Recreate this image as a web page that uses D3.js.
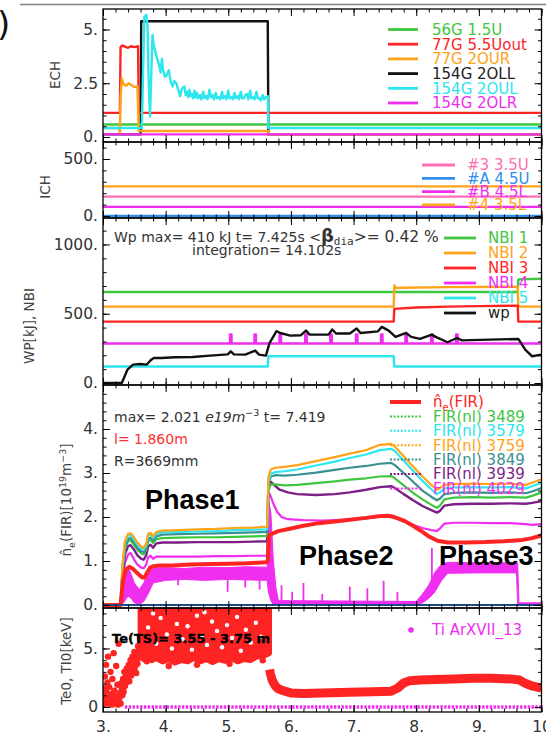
<!DOCTYPE html>
<html>
<head>
<meta charset="utf-8">
<script src="https://cdn.jsdelivr.net/npm/d3@7/dist/d3.min.js"></script>
<style>
  body { margin: 0; background: #fff; }
  svg { display: block; font-family: "DejaVu Sans", sans-serif; }
</style>
</head>
<body>
<svg id="chart" width="546" height="737"></svg>
<script>
// ---------------- axis ticks ----------------
const xTicks = [3, 4, 5, 6, 7, 8, 9, 10];
const xTickLabels = ["3.", "4.", "5.", "6.", "7.", "8.", "9.", "10"];
const echTicks = [0, 2.5, 5], echTickLabels = ["0.", "2.5", "5."];
const ichTicks = [0, 500], ichTickLabels = ["0.", "500."];
const nbiTicks = [0, 500, 1000], nbiTickLabels = ["0.", "500.", "1000."];
const neTicks = [0, 1, 2, 3, 4], neTickLabels = ["0.", "1.", "2.", "3.", "4."];
const teTicks = [0, 5], teTickLabels = ["0", "5."];

// ---------------- ECH ----------------
const ech56G15U = [[3, 0.58], [10, 0.58]];
const ech77G55Uout = [[3, 1.12], [3.27, 1.12], [3.28, 4.18], [3.31, 4.26], [3.35, 4.2], [3.4, 4.15], [3.45, 4.22],
  [3.5, 4.18], [3.56, 4.22], [3.57, 1.12], [10, 1.12]];
const ech77G2OUR = [[3, 0.42], [3.26, 0.42], [3.27, 0.15], [3.28, 1.8], [3.3, 2.72], [3.33, 2.45], [3.37, 2.38],
  [3.41, 2.5], [3.45, 2.42], [3.5, 2.32], [3.55, 2.36], [3.57, 0.28], [5.64, 0.28], [5.65, 0.12], [10, 0.12]];
const ech154G2OLL = [[3, 0.12], [3.6, 0.12], [3.61, 5.38], [5.63, 5.38], [5.64, 0.12], [10, 0.12]];
const ech154G2OUL = [[3, 0.42], [3.62, 0.42], [3.64, 3.0], [3.66, 5.6], [3.69, 5.68], [3.71, 5.2], [3.73, 2.5],
  [3.75, 0.95], [3.77, 2.8], [3.79, 4.75], [3.81, 4.3], [3.84, 3.9], [3.87, 3.6], [3.9, 3.3], [3.92, 3.0],
  [3.94, 3.64], [3.96, 3.1], [3.99, 2.8], [4.02, 2.9], [4.05, 3.1], [4.08, 2.6], [4.11, 2.35], [4.14, 2.6],
  [4.17, 2.5], [4.2, 2.2], [4.23, 1.9], [4.26, 2.25], [4.3, 2.35], [4.32, 1.95], [4.34, 2.1], [4.36, 1.85],
  [4.38, 2.2], [4.4, 1.9], [4.42, 2.0], [4.44, 1.8], [4.46, 2.15], [4.48, 1.85], [4.5, 2.05], [4.52, 1.8],
  [4.55, 1.95], [4.57, 1.75], [4.6, 2.1], [4.62, 1.8], [4.65, 1.9], [4.67, 1.75], [4.7, 2.2], [4.72, 1.85],
  [4.75, 1.95], [4.77, 1.75], [4.8, 2.05], [4.82, 1.8], [4.85, 1.85], [4.87, 1.75], [4.9, 2.1], [4.92, 1.8],
  [4.95, 1.9], [4.97, 1.75], [5.0, 2.15], [5.02, 1.8], [5.05, 1.85], [5.07, 1.75], [5.1, 2.05], [5.12, 1.8],
  [5.15, 1.9], [5.17, 1.75], [5.2, 2.1], [5.22, 1.8], [5.25, 1.8], [5.27, 1.95], [5.3, 2.0], [5.32, 1.75],
  [5.35, 2.15], [5.37, 1.8], [5.4, 1.85], [5.42, 1.75], [5.45, 2.1], [5.47, 1.8], [5.5, 1.8], [5.52, 1.7],
  [5.55, 1.95], [5.57, 1.75], [5.6, 1.85], [5.63, 1.9], [5.64, 0.42], [10, 0.42]];
const ech154G2OLR = [[3, 0.12], [10, 0.12]];

// ---------------- ICH ----------------
const ich3_35U = [[3, 170], [10, 170]];
const ichA_45U = [[3, 0], [10, 0]];
const ichB_45L = [[3, 80], [10, 80]];
const ich4_35L = [[3, 260], [10, 260]];

// ---------------- NBI / Wp [kJ] ----------------
const nbi1 = [[3, 657], [9.62, 657], [9.63, 748], [10, 752]];
const nbi2 = [[3, 551], [7.64, 551], [7.65, 705], [7.67, 686], [7.8, 688], [8.5, 692], [9.0, 693], [9.62, 695],
  [9.63, 551], [10, 551]];
const nbi3 = [[3, 443], [7.64, 443], [7.65, 535], [8.0, 545], [8.5, 551], [9.0, 555], [9.62, 558], [9.63, 443], [10, 443]];
const nbi4Base = 285, nbi4PulseTop = 350;
const nbi4Pulses = [5.04, 5.43, 5.83, 6.24, 6.64, 7.05, 7.45, 7.84, 8.25, 8.65];
const nbi5 = [[3, 119], [5.63, 119], [5.64, 193], [7.64, 193], [7.65, 119], [10, 119]];
const wp = [[3, 0], [3.3, 0], [3.39, 96], [3.48, 133], [3.59, 137], [3.7, 133], [3.76, 164], [3.81, 181],
  [3.93, 181], [4.15, 186], [4.43, 188], [4.71, 198], [4.99, 207], [5.04, 229], [5.09, 207], [5.27, 205],
  [5.43, 234], [5.49, 205], [5.6, 198], [5.66, 289], [5.77, 374], [5.83, 361], [5.99, 342], [6.16, 345],
  [6.24, 378], [6.3, 349], [6.6, 349], [6.66, 386], [6.72, 357], [6.94, 357], [7.05, 393], [7.11, 361],
  [7.39, 373], [7.45, 405], [7.56, 378], [7.67, 333], [7.84, 361], [7.92, 333], [8.06, 318], [8.25, 349],
  [8.31, 333], [8.5, 294], [8.65, 325], [8.73, 308], [9.18, 313], [9.63, 318], [9.74, 241], [9.85, 193], [10, 205]];

// ---------------- line density [1e19 m^-3] ----------------
const neFIR = [[3, 0], [3.28, 0], [3.32, 0.55], [3.36, 0.8], [3.42, 0.87], [3.48, 0.82], [3.55, 0.72], [3.62, 0.63],
  [3.66, 0.62], [3.7, 0.72], [3.75, 0.85], [3.8, 0.88], [3.9, 0.9], [4.1, 0.9], [4.4, 0.92], [4.7, 0.93], [5.0, 0.94],
  [5.3, 0.95], [5.6, 0.97], [5.63, 1.0], [5.65, 1.58], [5.7, 1.62], [5.8, 1.68], [6.0, 1.74], [6.2, 1.8], [6.4, 1.85],
  [6.7, 1.9], [6.94, 1.94], [7.2, 1.98], [7.4, 2.02], [7.55, 2.03], [7.65, 2.0], [7.8, 1.92], [7.95, 1.8], [8.06, 1.7],
  [8.2, 1.56], [8.34, 1.46], [8.5, 1.42], [8.8, 1.42], [9.1, 1.43], [9.4, 1.45], [9.7, 1.48], [9.85, 1.52], [10, 1.58]];
const fir3489 = [[3, 0], [3.28, 0], [3.31, 0.75], [3.35, 1.28], [3.4, 1.45], [3.44, 1.47], [3.49, 1.38], [3.55, 1.25],
  [3.61, 1.17], [3.65, 1.15], [3.69, 1.25], [3.72, 1.45], [3.76, 1.48], [3.8, 1.41], [3.85, 1.5], [3.95, 1.52],
  [4.2, 1.53], [4.5, 1.54], [4.8, 1.54], [5.1, 1.55], [5.4, 1.56], [5.62, 1.57], [5.64, 2.6], [5.68, 2.74],
  [5.75, 2.74], [5.9, 2.72], [6.1, 2.73], [6.4, 2.77], [6.7, 2.81], [6.94, 2.85], [7.2, 2.88], [7.42, 2.92],
  [7.6, 2.93], [7.66, 2.88], [7.8, 2.72], [7.95, 2.55], [8.1, 2.4], [8.25, 2.27], [8.33, 2.21], [8.38, 2.26],
  [8.45, 2.4], [8.6, 2.44], [8.9, 2.45], [9.2, 2.44], [9.5, 2.45], [9.75, 2.44], [9.85, 2.48], [10, 2.56]];
const fir3579 = [[3, 0], [3.28, 0], [3.31, 0.85], [3.35, 1.4], [3.4, 1.58], [3.44, 1.59], [3.49, 1.5], [3.55, 1.38],
  [3.61, 1.29], [3.65, 1.26], [3.69, 1.36], [3.72, 1.58], [3.76, 1.6], [3.8, 1.52], [3.85, 1.62], [3.95, 1.65],
  [4.2, 1.66], [4.5, 1.67], [4.8, 1.68], [5.1, 1.7], [5.4, 1.71], [5.62, 1.72], [5.64, 2.8], [5.68, 2.98],
  [5.75, 3.02], [5.9, 3.04], [6.1, 3.08], [6.4, 3.17], [6.7, 3.26], [6.94, 3.34], [7.2, 3.42], [7.42, 3.52],
  [7.6, 3.55], [7.66, 3.5], [7.8, 3.28], [7.95, 3.05], [8.1, 2.82], [8.25, 2.62], [8.33, 2.52], [8.38, 2.56],
  [8.45, 2.65], [8.6, 2.67], [8.9, 2.68], [9.2, 2.67], [9.5, 2.68], [9.75, 2.65], [9.85, 2.7], [10, 2.78]];
const fir3759 = [[3, 0], [3.28, 0], [3.31, 0.9], [3.35, 1.45], [3.4, 1.62], [3.44, 1.63], [3.49, 1.55], [3.55, 1.42],
  [3.61, 1.33], [3.65, 1.3], [3.69, 1.4], [3.72, 1.62], [3.76, 1.64], [3.8, 1.56], [3.85, 1.66], [3.95, 1.69],
  [4.2, 1.7], [4.5, 1.72], [4.8, 1.73], [5.1, 1.75], [5.4, 1.76], [5.62, 1.78], [5.64, 2.9], [5.68, 3.08],
  [5.75, 3.12], [5.9, 3.14], [6.1, 3.18], [6.4, 3.27], [6.7, 3.36], [6.94, 3.44], [7.2, 3.52], [7.42, 3.64],
  [7.6, 3.66], [7.66, 3.6], [7.8, 3.38], [7.95, 3.15], [8.1, 2.92], [8.25, 2.72], [8.33, 2.62], [8.38, 2.66],
  [8.45, 2.73], [8.6, 2.75], [8.9, 2.76], [9.2, 2.75], [9.5, 2.76], [9.75, 2.73], [9.85, 2.78], [10, 2.86]];
const fir3849 = [[3, 0], [3.28, 0], [3.31, 0.8], [3.35, 1.32], [3.4, 1.5], [3.44, 1.52], [3.49, 1.43], [3.55, 1.3],
  [3.61, 1.22], [3.65, 1.2], [3.69, 1.3], [3.72, 1.5], [3.76, 1.53], [3.8, 1.46], [3.85, 1.56], [3.95, 1.6],
  [4.2, 1.61], [4.5, 1.62], [4.8, 1.63], [5.1, 1.64], [5.4, 1.65], [5.62, 1.66], [5.64, 2.75], [5.68, 2.92],
  [5.75, 2.95], [5.9, 2.94], [6.1, 2.96], [6.4, 3.01], [6.7, 3.07], [6.94, 3.12], [7.2, 3.16], [7.42, 3.21],
  [7.6, 3.23], [7.66, 3.18], [7.8, 3.0], [7.95, 2.8], [8.1, 2.6], [8.25, 2.45], [8.33, 2.38], [8.38, 2.42],
  [8.45, 2.52], [8.6, 2.55], [8.9, 2.56], [9.2, 2.55], [9.5, 2.56], [9.75, 2.54], [9.85, 2.58], [10, 2.66]];
const fir3939 = [[3, 0], [3.28, 0], [3.31, 0.6], [3.35, 1.15], [3.4, 1.34], [3.44, 1.36], [3.49, 1.27], [3.55, 1.13],
  [3.61, 1.05], [3.65, 1.03], [3.69, 1.13], [3.72, 1.33], [3.76, 1.37], [3.8, 1.3], [3.85, 1.4], [3.95, 1.42],
  [4.2, 1.42], [4.5, 1.43], [4.8, 1.43], [5.1, 1.43], [5.4, 1.44], [5.62, 1.45], [5.64, 2.7], [5.68, 2.8],
  [5.74, 2.72], [5.82, 2.62], [5.95, 2.56], [6.1, 2.52], [6.4, 2.5], [6.7, 2.52], [6.94, 2.56], [7.2, 2.62],
  [7.42, 2.68], [7.6, 2.7], [7.66, 2.66], [7.8, 2.52], [7.95, 2.38], [8.1, 2.25], [8.25, 2.15], [8.33, 2.1],
  [8.38, 2.14], [8.45, 2.26], [8.6, 2.29], [8.9, 2.3], [9.2, 2.3], [9.5, 2.31], [9.75, 2.3], [9.85, 2.32], [10, 2.36]];
const fir4029 = [[3, 0], [3.28, 0], [3.31, 0.5], [3.35, 0.95], [3.4, 1.15], [3.44, 1.18], [3.49, 1.05], [3.55, 0.92],
  [3.61, 0.85], [3.65, 0.84], [3.69, 0.92], [3.72, 1.08], [3.76, 1.12], [3.8, 1.05], [3.85, 1.1], [3.95, 1.1],
  [4.2, 1.1], [4.5, 1.1], [4.8, 1.11], [5.1, 1.11], [5.4, 1.12], [5.62, 1.12], [5.64, 2.55], [5.67, 2.5],
  [5.72, 2.3], [5.78, 2.12], [5.85, 2.0], [5.95, 1.95], [6.2, 1.93], [6.5, 1.92], [6.94, 1.94], [7.2, 1.97],
  [7.42, 2.0], [7.6, 2.03], [7.66, 2.0], [7.8, 1.9], [7.95, 1.82], [8.1, 1.75], [8.25, 1.7], [8.33, 1.68],
  [8.38, 1.74], [8.45, 1.85], [8.6, 1.87], [8.9, 1.87], [9.2, 1.86], [9.5, 1.86], [9.75, 1.84], [9.85, 1.82], [10, 1.84]];
// noisy edge chord: [t, low, high]
const firEdgeBand = [[3.28, 0, 0.05], [3.33, 0.05, 0.5], [3.4, 0.2, 0.85], [3.45, 0.15, 0.7], [3.5, 0.05, 0.5],
  [3.58, 0.02, 0.35], [3.65, 0.08, 0.5], [3.72, 0.25, 0.72], [3.8, 0.5, 0.84], [4.0, 0.56, 0.85], [4.3, 0.58, 0.83],
  [4.6, 0.56, 0.86], [5.0, 0.58, 0.85], [5.3, 0.57, 0.87], [5.62, 0.56, 0.86], [5.64, 0.3, 2.4], [5.68, 0.1, 2.1],
  [5.72, 0.0, 1.0], [5.76, 0, 0.4], [5.8, 0, 0.1], [8.0, 0, 0.08], [8.1, 0.05, 0.25], [8.2, 0.15, 0.45],
  [8.3, 0.3, 0.75], [8.4, 0.55, 0.92], [8.5, 0.72, 0.97], [9.0, 0.73, 0.96], [9.6, 0.73, 0.96], [9.62, 0, 0.96],
  [9.64, 0, 0.05], [10, 0, 0.05]];
const firEdgeSpikes = [[4.2, 0.6, 0.45], [4.99, 0.6, 0.3], [5.27, 0.62, 0.4], [5.5, 0.62, 0.35], [5.85, 0, 0.45],
  [6.02, 0, 0.3], [6.2, 0, 0.5], [6.5, 0, 0.25], [6.94, 0, 0.42], [7.22, 0, 0.38], [7.48, 0, 0.55], [7.7, 0, 0.3],
  [8.25, 0.5, 1.3]];
const firZero = [[3, 0], [10, 0]];

// ---------------- Te / Ti [keV] ----------------
const teEarly = [[3.01, 0.2], [3.02, 0.9], [3.02, 1.6], [3.03, 2.6], [3.04, 0.5], [3.05, 3.6], [3.05, 1.3], [3.07, 0.3],
  [3.07, 2.1], [3.08, 4.3], [3.09, 0.8], [3.1, 1.7], [3.11, 0.4], [3.12, 3.0], [3.13, 1.1], [3.14, 0.2], [3.15, 2.4],
  [3.16, 0.7], [3.17, 4.6], [3.18, 1.4], [3.19, 0.3], [3.2, 0.9], [3.21, 3.5], [3.22, 0.5], [3.23, 1.9], [3.24, 0.2],
  [3.25, 5.4], [3.26, 0.7], [3.27, 1.2], [3.28, 0.3], [3.29, 2.0], [3.3, 1.6], [3.31, 1.0], [3.32, 2.4], [3.33, 1.3],
  [3.34, 3.0], [3.35, 1.8], [3.36, 2.6], [3.37, 2.1], [3.38, 3.3], [3.39, 2.4], [3.4, 2.9], [3.41, 3.6], [3.42, 2.2],
  [3.43, 3.1], [3.44, 4.0], [3.45, 2.7], [3.46, 3.5], [3.47, 4.3], [3.48, 3.1], [3.49, 3.8], [3.5, 4.7], [3.51, 3.4],
  [3.52, 4.1], [3.53, 2.9], [3.54, 4.5], [3.55, 3.7], [3.56, 5.2], [3.57, 4.2], [3.58, 4.8], [3.59, 6.0], [3.6, 4.5],
  [3.61, 7.2], [3.62, 5.6], [3.7, 3.9], [4.05, 3.5], [4.5, 3.6], [5.02, 3.7], [5.55, 4.0]];
const teBlobEdge = [[3.6, 4.8], [3.65, 4.1], [3.7, 4.4], [3.78, 4.0], [3.85, 4.2], [3.95, 3.9], [4.05, 4.1], [4.15, 3.8],
  [4.25, 4.0], [4.35, 3.9], [4.45, 4.2], [4.55, 3.9], [4.65, 4.1], [4.75, 3.85], [4.85, 4.1], [4.95, 3.95], [5.05, 4.2],
  [5.15, 3.9], [5.25, 4.1], [5.35, 4.0], [5.45, 4.3], [5.55, 4.4], [5.62, 4.5], [5.65, 4.6]];
// gaps inside the dense Te cloud
const teBlobGaps = [[3.72, 6.8], [3.85, 5.4], [3.92, 7.6], [4.02, 6.2], [4.1, 5.0], [4.18, 7.1], [4.27, 5.8],
  [4.35, 6.9], [4.42, 4.9], [4.5, 7.8], [4.58, 6.1], [4.66, 5.3], [4.74, 7.3], [4.82, 6.5], [4.9, 5.1], [4.98, 7.0],
  [5.06, 5.9], [5.14, 7.7], [5.2, 4.8], [5.28, 6.6], [5.36, 5.5], [5.44, 7.2], [5.52, 6.0], [3.8, 8.0], [4.62, 8.1]];
const teBand = [[5.66, 3.2], [5.67, 2.9], [5.7, 2.3], [5.75, 1.8], [5.8, 1.55], [5.9, 1.35], [6.0, 1.2], [6.2, 1.15],
  [6.5, 1.2], [6.94, 1.25], [7.3, 1.3], [7.6, 1.35], [7.7, 1.6], [7.8, 2.05], [7.9, 2.25], [8.06, 2.3], [8.3, 2.35],
  [8.6, 2.4], [8.9, 2.45], [9.2, 2.45], [9.5, 2.4], [9.65, 2.3], [9.75, 2.0], [9.85, 1.8], [10, 1.6]];
const tiArXVII13 = [[3.35, 0], [10, 0]];

// ---------------- drawing ----------------
const svg = d3.select("#chart");
const x = d3.scaleLinear().domain([3, 10]).range([103, 541.5]);
const col = {
  green: "#3fc63f", red: "#ff2424", orange: "#ffa31a", black: "#111", cyan: "#2de6ee", magenta: "#f02ef0",
  pink: "#ff6fb4", blue: "#2f8ee8", teal: "#3a9090", purple: "#7d1f86", navy: "#1f4a86"
};

const panels = [
  { id: "ech", top: 9, bottom: 142, domain: [-0.233, 5.953], ticks: echTicks, labels: echTickLabels, minor: 0.5 },
  { id: "ich", top: 142, bottom: 218, domain: [-17.5, 649], ticks: ichTicks, labels: ichTickLabels, minor: 100 },
  { id: "nbi", top: 218, bottom: 385, domain: [-14.4, 1191], ticks: nbiTicks, labels: nbiTickLabels, minor: 100 },
  { id: "ne", top: 385, bottom: 608, domain: [-0.068, 5.0], ticks: neTicks, labels: neTickLabels, minor: 0.2 },
  { id: "te", top: 608, bottom: 712, domain: [-0.43, 8.46], ticks: teTicks, labels: teTickLabels, minor: 1 }
];
const P = {};
panels.forEach(p => {
  p.y = d3.scaleLinear().domain(p.domain).range([p.bottom, p.top]);
  svg.append("clipPath").attr("id", "clip-" + p.id).append("rect")
    .attr("x", x(3)).attr("y", p.top).attr("width", x(10) - x(3)).attr("height", p.bottom - p.top);
  p.plot = svg.append("g").attr("clip-path", `url(#clip-${p.id})`);
  P[p.id] = p;
});

function drawLine(p, data, color, width, dash) {
  const line = d3.line().x(d => x(d[0])).y(d => p.y(d[1]));
  p.plot.append("path").datum(data).attr("d", line)
    .attr("fill", "none").attr("stroke", color).attr("stroke-width", width || 2.2)
    .attr("stroke-linejoin", "round").attr("stroke-dasharray", dash || null);
}

// ECH
drawLine(P.ech, ech154G2OLL, col.black, 2.4);
drawLine(P.ech, ech56G15U, col.green, 2.4);
drawLine(P.ech, ech77G55Uout, col.red, 2.4);
drawLine(P.ech, ech77G2OUR, col.orange, 2.4);
drawLine(P.ech, ech154G2OUL, col.cyan, 2.4);
drawLine(P.ech, ech154G2OLR, col.magenta, 2.4);

// ICH
drawLine(P.ich, ichA_45U, col.blue, 2.4);
drawLine(P.ich, ich4_35L, col.orange, 2.4);
drawLine(P.ich, ich3_35U, col.pink, 2.4);
drawLine(P.ich, ichB_45L, col.magenta, 2.4);

// NBI
const nbi4 = [[3, nbi4Base]];
nbi4Pulses.forEach(t => {
  nbi4.push([t - 0.012, nbi4Base], [t - 0.012, nbi4PulseTop], [t + 0.012, nbi4PulseTop], [t + 0.012, nbi4Base]);
});
nbi4.push([10, nbi4Base]);
drawLine(P.nbi, nbi1, col.green, 2.4);
drawLine(P.nbi, nbi2, col.orange, 2.4);
drawLine(P.nbi, nbi3, col.red, 2.4);
drawLine(P.nbi, nbi4, col.magenta, 2.4);
drawLine(P.nbi, nbi5, col.cyan, 2.4);
drawLine(P.nbi, wp, col.black, 2.4);

// density
P.ne.plot.append("path").datum(firEdgeBand)
  .attr("d", d3.area().x(d => x(d[0])).y0(d => P.ne.y(d[1])).y1(d => P.ne.y(d[2])))
  .attr("fill", col.magenta).attr("stroke", col.magenta).attr("stroke-width", 1);
P.ne.plot.selectAll(".spike").data(firEdgeSpikes).join("line")
  .attr("x1", d => x(d[0])).attr("x2", d => x(d[0]))
  .attr("y1", d => P.ne.y(d[1])).attr("y2", d => P.ne.y(d[2]))
  .attr("stroke", col.magenta).attr("stroke-width", 1.8);
drawLine(P.ne, fir4029, col.magenta, 2.2);
drawLine(P.ne, fir3939, col.purple, 2.4);
drawLine(P.ne, fir3489, col.green, 2.2);
drawLine(P.ne, fir3849, col.teal, 2.2);
drawLine(P.ne, fir3579, col.cyan, 2.2);
drawLine(P.ne, fir3759, col.orange, 2.2);
drawLine(P.ne, neFIR, col.red, 4);
drawLine(P.ne, firZero, col.navy, 2.2);

// Te / Ti
P.te.plot.append("path").datum(teBlobEdge)
  .attr("d", d3.area().x(d => x(d[0])).y0(d => P.te.y(d[1])).y1(P.te.y(9)))
  .attr("fill", col.red).attr("stroke", col.red).attr("stroke-width", 6).attr("stroke-linejoin", "round");
P.te.plot.selectAll(".gap").data(teBlobGaps).join("circle")
  .attr("cx", d => x(d[0])).attr("cy", d => P.te.y(d[1])).attr("r", 2.2).attr("fill", "#fff");
P.te.plot.selectAll(".te").data(teEarly).join("circle")
  .attr("cx", d => x(d[0])).attr("cy", d => P.te.y(d[1])).attr("r", 3.2).attr("fill", col.red);
drawLine(P.te, teBand, col.red, 9);
drawLine(P.te, tiArXVII13, col.magenta, 3.5, "2.4,1.4");

// frames and ticks
const tickFont = 15.5;
panels.forEach((p, i) => {
  const g = svg.append("g");
  const xMinor = d3.range(3, 10.001, 0.2);
  const yMinor = d3.range(Math.ceil(p.domain[0] / p.minor) * p.minor, p.domain[1], p.minor);
  const last = i === panels.length - 1;

  const add = (axis, tr) => g.append("g").attr("transform", tr).call(axis).call(s => s.select(".domain").remove());
  add(d3.axisLeft(p.y).tickValues(yMinor).tickSize(-3.5).tickFormat(""), `translate(${x(3)},0)`);
  add(d3.axisRight(p.y).tickValues(yMinor).tickSize(-3.5).tickFormat(""), `translate(${x(10)},0)`);
  add(d3.axisRight(p.y).tickValues(p.ticks).tickSize(-7).tickFormat(""), `translate(${x(10)},0)`);
  add(d3.axisTop(x).tickValues(xMinor).tickSize(-3.5).tickFormat(""), `translate(0,${p.top})`);
  add(d3.axisTop(x).tickValues(xTicks).tickSize(-7).tickFormat(""), `translate(0,${p.top})`);
  add(d3.axisBottom(x).tickValues(xMinor).tickSize(-3.5).tickFormat(""), `translate(0,${p.bottom})`);
  const left = add(d3.axisLeft(p.y).tickValues(p.ticks).tickSize(-7).tickPadding(5)
    .tickFormat((d, k) => p.labels[k]), `translate(${x(3)},0)`);
  const bottom = add(d3.axisBottom(x).tickValues(xTicks).tickSize(-7).tickPadding(9)
    .tickFormat((d, k) => last ? xTickLabels[k] : ""), `translate(0,${p.bottom})`);
  [left, bottom].forEach(s => s.selectAll("text").attr("font-size", tickFont)
    .style("font-family", "DejaVu Sans").attr("fill", "#333"));
  g.selectAll("line").attr("stroke", "#000").attr("stroke-width", 1);
  g.append("rect").attr("x", x(3)).attr("y", p.top).attr("width", x(10) - x(3)).attr("height", p.bottom - p.top)
    .attr("fill", "none").attr("stroke", "#000").attr("stroke-width", 1.3);
});

// ---------------- legends ----------------
function legend(items, x1, x2, tx, y0, dy, size) {
  const g = svg.append("g");
  items.forEach((it, i) => {
    const yy = y0 + i * dy;
    if (it.dot) {
      g.append("circle").attr("cx", (x1 + x2) / 2).attr("cy", yy).attr("r", 2.8).attr("fill", it.color);
    } else {
      g.append("line").attr("x1", x1).attr("x2", x2).attr("y1", yy).attr("y2", yy)
        .attr("stroke", it.color).attr("stroke-width", it.width || 2.8).attr("stroke-dasharray", it.dash || null);
    }
    const t = g.append("text").attr("x", tx).attr("y", yy + size * 0.36).attr("font-size", size).attr("fill", it.text || it.color);
    if (it.rich) it.rich(t); else t.text(it.label);
  });
}
legend([
  { label: "56G 1.5U", color: col.green },
  { label: "77G 5.5Uout", color: col.red },
  { label: "77G 2OUR", color: col.orange },
  { label: "154G 2OLL", color: col.black, text: "#222" },
  { label: "154G 2OUL", color: col.cyan },
  { label: "154G 2OLR", color: col.magenta }
], 388, 418, 432, 29.5, 14.7, 15);
legend([
  { label: "#3 3.5U", color: col.pink },
  { label: "#A 4.5U", color: col.blue },
  { label: "#B 4.5L", color: col.magenta },
  { label: "#4 3.5L", color: col.orange }
], 422, 455, 467, 165, 13.3, 15);
legend([
  { label: "NBI 1", color: col.green },
  { label: "NBI 2", color: col.orange },
  { label: "NBI 3", color: col.red },
  { label: "NBI 4", color: col.magenta },
  { label: "NBI 5", color: col.cyan },
  { label: "wp", color: col.black, text: "#222" }
], 444, 476, 488, 238, 15, 15);
const dots = "2,1.6";
legend([
  { color: col.red, width: 4, rich: t => {
      t.append("tspan").text("n\u0302");
      t.append("tspan").attr("font-size", 10).attr("dy", 4).text("e");
      t.append("tspan").attr("dy", -4).text("(FIR)");
    } },
  { label: "FIR(nl) 3489", color: col.green, dash: dots, width: 2 },
  { label: "FIR(nl) 3579", color: col.cyan, dash: dots, width: 2 },
  { label: "FIR(nl) 3759", color: col.orange, dash: dots, width: 2 },
  { label: "FIR(nl) 3849", color: col.teal, dash: dots, width: 2 },
  { label: "FIR(nl) 3939", color: col.purple, dash: dots, width: 2 },
  { label: "FIR(nl) 4029", color: col.magenta, dash: dots, width: 2 }
], 390, 421, 433, 402, 14.4, 15);
legend([{ label: "Ti ArXVII_13", color: col.magenta, dot: true }], 405, 417, 432, 630, 14, 15);

// ---------------- annotations ----------------
svg.append("line").attr("x1", 20).attr("x2", 546).attr("y1", 4.5).attr("y2", 4.5)
  .attr("stroke", "#808080").attr("stroke-width", 1.5);
svg.append("text").attr("x", -3).attr("y", 36).attr("font-size", 34).attr("fill", "#111").text(")");

const wpT = svg.append("text").attr("x", 114).attr("y", 242).attr("font-size", 14).attr("fill", "#333");
wpT.append("tspan").text("Wp max= 410 kJ t= 7.425s <");
wpT.append("tspan").attr("font-weight", "bold").attr("font-size", 18).text("\u03b2");
wpT.append("tspan").style("font-family", "DejaVu Sans Mono").attr("font-size", 11).attr("dy", 3).text("dia");
wpT.append("tspan").attr("dy", -3).attr("font-size", 15.5).text(">= 0.42 %");
svg.append("text").attr("x", 192).attr("y", 255).attr("font-size", 14).attr("fill", "#333").text("integration= 14.102s");

const mx = svg.append("text").attr("x", 114).attr("y", 422).attr("font-size", 14).attr("fill", "#333");
mx.append("tspan").text("max= 2.021 ");
mx.append("tspan").attr("font-style", "italic").text("e19m");
mx.append("tspan").attr("font-size", 9.5).attr("dy", -6).text("\u22123");
mx.append("tspan").attr("dy", 6).text(" t= 7.419");
svg.append("text").attr("x", 114).attr("y", 443.5).attr("font-size", 14).attr("fill", "#ff3030").text("l= 1.860m");
svg.append("text").attr("x", 114).attr("y", 465.5).attr("font-size", 14).attr("fill", "#333").text("R=3669mm");

const phase = (t, xx, yy) => svg.append("text").attr("x", xx).attr("y", yy).attr("font-size", 27)
  .style("font-family", "'Liberation Sans', Arial, sans-serif").attr("font-weight", "bold").attr("fill", "#000").text(t);
phase("Phase1", 145, 508.5);
phase("Phase2", 299, 565);
phase("Phase3", 439, 565);

svg.append("text").attr("x", 112).attr("y", 643).attr("font-size", 13).attr("font-weight", "bold")
  .attr("fill", "#000").attr("stroke", "#000").attr("stroke-width", 0.4).text("Te(TS)= 3.55 - 3.75 m");

// y-axis titles
function yTitle(xx, yy, build) {
  const t = svg.append("text").attr("transform", `translate(${xx},${yy}) rotate(-90)`)
    .attr("text-anchor", "middle").attr("font-size", 13.5).attr("fill", "#444");
  build(t);
}
yTitle(60, 75, t => t.text("ECH"));
yTitle(50, 187, t => t.text("ICH"));
yTitle(34, 326, t => t.text("WP[kJ], NBI"));
yTitle(71, 500, t => {
  t.append("tspan").text("n\u0302");
  t.append("tspan").attr("font-size", 9.5).attr("dy", 3.5).text("e");
  t.append("tspan").attr("dy", -3.5).text("(FIR)[10");
  t.append("tspan").attr("font-size", 9.5).attr("dy", -5).text("19");
  t.append("tspan").attr("dy", 5).text("m");
  t.append("tspan").attr("font-size", 9.5).attr("dy", -5).text("\u22123");
  t.append("tspan").attr("dy", 5).text("]");
});
yTitle(71, 661, t => t.text("Te0, TI0[keV]"));
</script>
</body>
</html>
